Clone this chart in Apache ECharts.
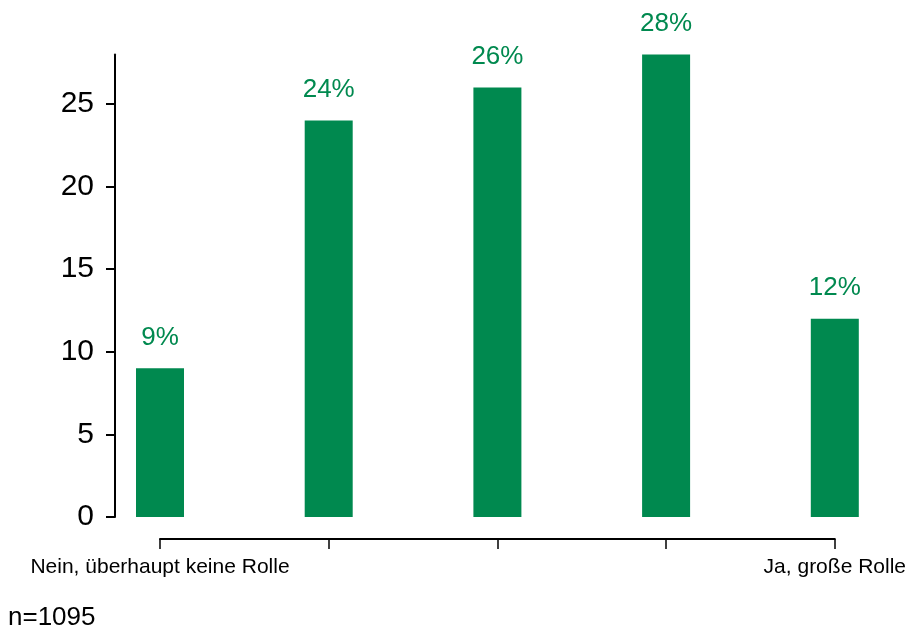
<!DOCTYPE html>
<html>
<head>
<meta charset="utf-8">
<script src="https://cdn.jsdelivr.net/npm/echarts@6/dist/echarts.min.js"></script>
<style>
html,body{margin:0;padding:0;background:#fff;}
#chart{width:909px;height:630px;}
</style>
</head>
<body>
<div id="chart"></div>
<script>
const categories = ["Nein, überhaupt keine Rolle", "", "", "", "Ja, große Rolle"];
const values = [9, 24, 26, 28, 12];
const yTicks = [0, 5, 10, 15, 20, 25];
const note = "n=1095";

const green = "#00894F";
const font = "'Liberation Sans', Arial, Helvetica, sans-serif";

const chart = echarts.init(document.getElementById('chart'), null, {renderer: 'canvas'});
chart.setOption({
  backgroundColor: '#ffffff',
  animation: false,
  grid: {left: 160, right: 73, top: 54.5, bottom: 113, containLabel: false},
  xAxis: {
    type: 'category',
    data: categories,
    boundaryGap: false,
    offset: 22,
    axisLine: {show: true, onZero: false, lineStyle: {color: '#000', width: 2}},
    axisTick: {show: true, length: 10, lineStyle: {color: '#000', width: 1.5}, alignWithLabel: true},
    axisLabel: {show: true, interval: 0, margin: 18, color: '#000', fontSize: 21, fontFamily: font},
    splitLine: {show: false}
  },
  yAxis: {
    type: 'value',
    min: 0,
    max: 28,
    interval: 5,
    offset: 45,
    axisLine: {show: true, lineStyle: {color: '#000', width: 2}},
    axisTick: {show: true, length: 9, lineStyle: {color: '#000', width: 2}, customValues: yTicks},
    axisLabel: {
      color: '#000', fontSize: 30, fontFamily: font, margin: 21,
      customValues: yTicks,
      formatter: function (v) { return yTicks.indexOf(v) >= 0 ? String(v) : ''; }
    },
    splitLine: {show: false}
  },
  graphic: [{
    type: 'text',
    left: 8,
    top: 605,
    style: {text: note, fill: '#000', font: "26px " + font}
  }],
  series: [{
    type: 'bar',
    data: values,
    barWidth: 48,
    itemStyle: {color: green},
    label: {
      show: true,
      position: 'top',
      distance: 18,
      color: green,
      fontSize: 26,
      fontFamily: font,
      formatter: function (p) { return p.value + '%'; }
    }
  }]
});
</script>
</body>
</html>
